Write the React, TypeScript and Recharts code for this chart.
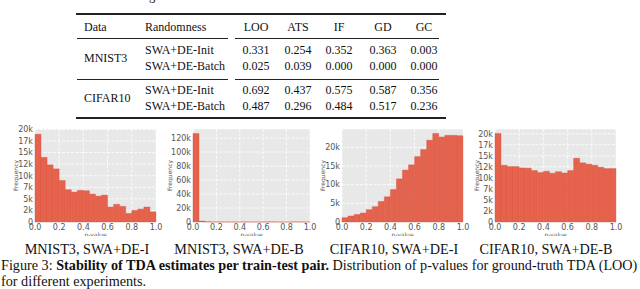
import React from 'react'
import { BarChart, Bar, XAxis, YAxis, CartesianGrid } from 'recharts'

// ── data ──────────────────────────────────────────────────────────────────────

const tableColumns = ['LOO', 'ATS', 'IF', 'GD', 'GC']
const tableDatasets = ['MNIST3', 'CIFAR10']
const tableRandomness = ['SWA+DE-Init', 'SWA+DE-Batch']
const mnistScores = [
  [0.331, 0.254, 0.352, 0.363, 0.003],
  [0.025, 0.039, 0.0, 0.0, 0.0],
]
const cifarScores = [
  [0.692, 0.437, 0.575, 0.587, 0.356],
  [0.487, 0.296, 0.484, 0.517, 0.236],
]

const binCenters = [
  0.025, 0.075, 0.125, 0.175, 0.225, 0.275, 0.325, 0.375, 0.425, 0.475,
  0.525, 0.575, 0.625, 0.675, 0.725, 0.775, 0.825, 0.875, 0.925, 0.975,
]
const mnistInit = [
  18970, 13970, 12350, 11470, 8970, 6985, 6470, 6840, 6760, 6030,
  5590, 5810, 3235, 3820, 3380, 1840, 2500, 2790, 3235, 2200,
]
const mnistBatch = [
  126500, 1300, 350, 150, 80, 60, 50, 40, 120, 60,
  40, 50, 120, 180, 60, 40, 60, 150, 60, 40,
]
const cifarInit = [
  1160, 1600, 2000, 2400, 3300, 4100, 5500, 6750, 8700, 11550,
  13900, 15300, 17500, 19400, 21900, 23700, 22750, 23200, 23200, 23100,
]
const cifarBatch = [
  20070, 12850, 12550, 12550, 12250, 12200, 11650, 11200, 11500, 11050,
  11400, 11100, 11650, 14450, 13400, 13100, 12850, 12400, 12100, 12100,
]

const xTicks = [0, 0.2, 0.4, 0.6, 0.8, 1.0]
const ticksQuarter = [0, 2500, 5000, 7500, 10000, 12500, 15000, 17500, 20000]
const ticks5k = [0, 5000, 10000, 15000, 20000]
const ticks20k = [0, 20000, 40000, 60000, 80000, 100000, 120000]

const subCaptions = ['MNIST3, SWA+DE-I', 'MNIST3, SWA+DE-B', 'CIFAR10, SWA+DE-I', 'CIFAR10, SWA+DE-B']

// ── style ─────────────────────────────────────────────────────────────────────

const SERIF = '"Liberation Serif", "Times New Roman", serif'
const SANS = '"DejaVu Sans", sans-serif'
const BAR = '#E5624D'
const PANEL = '#E8E8E8'
const TICK = '#555555'

const toRows = (values: number[]) => binCenters.map((x, i) => ({ x, v: values[i] }))

const kFormat = (v: number) => (v === 0 ? '0' : `${Math.floor(v / 1000)}k`)

// ── histogram ─────────────────────────────────────────────────────────────────

interface HistProps {
  values: number[]
  left: number
  width: number
  axisWidth: number
  marginRight: number
  yMax: number
  yTicks: number[]
  freqX: number
}

function Hist({ values, left, width, axisWidth, marginRight, yMax, yTicks, freqX }: HistProps) {
  return (
    <div style={{ position: 'absolute', left, top: 125 }}>
      <BarChart
        width={width}
        height={111}
        data={toRows(values)}
        margin={{ top: 4, right: marginRight, bottom: 0, left: 0 }}
        barCategoryGap={0}
        barGap={0}
      >
        <CartesianGrid fill={PANEL} fillOpacity={1} stroke="#ffffff" strokeDasharray="3 1.5" strokeWidth={0.8} />
        <XAxis
          type="number"
          dataKey="x"
          domain={[0, 1]}
          ticks={xTicks}
          interval={0}
          tickFormatter={(v: number) => v.toFixed(1)}
          tick={{ fontSize: 8, fill: TICK, fontFamily: SANS }}
          tickLine={false}
          axisLine={false}
          tickSize={0}
          tickMargin={2}
          height={14}
          label={{
            content: ({ viewBox }: any) => (
              <text
                x={viewBox.x + viewBox.width / 2}
                y={viewBox.y + 14.5}
                textAnchor="middle"
                fontSize={6}
                fill={TICK}
                fontFamily={SANS}
              >
                p-value
              </text>
            ),
          }}
        />
        <YAxis
          type="number"
          domain={[0, yMax]}
          ticks={yTicks}
          interval={0}
          tickFormatter={kFormat}
          tick={{ fontSize: 8, fill: TICK, fontFamily: SANS }}
          tickLine={false}
          axisLine={false}
          tickSize={0}
          tickMargin={2}
          width={axisWidth}
          label={{
            content: ({ viewBox }: any) => {
              const cy = viewBox.y + viewBox.height / 2
              return (
                <text
                  x={freqX}
                  y={cy}
                  transform={`rotate(-90, ${freqX}, ${cy})`}
                  textAnchor="middle"
                  dominantBaseline="middle"
                  fontSize={6}
                  fill={TICK}
                  fontFamily={SANS}
                >
                  Frequency
                </text>
              )
            },
          }}
        />
        <Bar dataKey="v" fill={BAR} stroke="#D4533F" strokeWidth={0.4} isAnimationActive={false} />
      </BarChart>
    </div>
  )
}

// ── table ─────────────────────────────────────────────────────────────────────

const colCenters = [256, 298, 339, 383, 424]
const rowCenters = [50, 66, 90, 106]

function Cell({ x, y, text, center }: { x: number; y: number; text: string; center?: boolean }) {
  return (
    <div
      style={{
        position: 'absolute',
        left: x,
        top: y,
        transform: center ? 'translate(-50%, -50%)' : 'translate(0, -50%)',
        fontFamily: SERIF,
        fontSize: 12,
        lineHeight: '14px',
        whiteSpace: 'nowrap',
        color: '#111',
      }}
    >
      {text}
    </div>
  )
}

function Rule({ x1, x2, y, w }: { x1: number; x2: number; y: number; w: number }) {
  return (
    <div
      style={{ position: 'absolute', left: x1, top: y - w / 2, width: x2 - x1, height: w, background: '#222' }}
    />
  )
}

function Table() {
  const scoreRows = [...mnistScores, ...cifarScores]
  return (
    <>
      <Rule x1={76} x2={446} y={14} w={1.5} />
      <Cell x={84} y={27} text="Data" />
      <Cell x={145} y={27} text="Randomness" />
      {tableColumns.map((c, i) => (
        <Cell key={c} x={colCenters[i]} y={27} text={c} center />
      ))}
      <Rule x1={77} x2={228} y={38} w={0.8} />
      <Rule x1={235} x2={439} y={38} w={0.8} />
      <Cell x={84} y={58} text={tableDatasets[0]} />
      <Cell x={84} y={98} text={tableDatasets[1]} />
      {scoreRows.map((row, r) => (
        <React.Fragment key={r}>
          <Cell x={145} y={rowCenters[r]} text={tableRandomness[r % 2]} />
          {row.map((v, i) => (
            <Cell key={i} x={colCenters[i]} y={rowCenters[r]} text={v.toFixed(3)} center />
          ))}
        </React.Fragment>
      ))}
      <Rule x1={77} x2={228} y={79} w={0.8} />
      <Rule x1={235} x2={439} y={79} w={0.8} />
      <Rule x1={76} x2={446} y={118} w={1.5} />
    </>
  )
}

// ── page ──────────────────────────────────────────────────────────────────────

const captionCenters = [87, 239, 394, 546]

export default function App() {
  const textStyle: React.CSSProperties = {
    position: 'absolute',
    fontFamily: SERIF,
    fontSize: 14.2,
    lineHeight: '16px',
    whiteSpace: 'nowrap',
    color: '#111',
  }
  return (
    <div
      style={{
        position: 'absolute',
        left: 0,
        top: 0,
        width: 640,
        height: 289,
        overflow: 'hidden',
        background: '#fff',
      }}
    >
      <div style={{ ...textStyle, left: 1, top: -11, fontSize: 12.5, lineHeight: '14px' }}>
        We use the CNN model throughout.
      </div>
      <Table />
      <Hist values={mnistInit} left={0} width={165} axisWidth={35} marginRight={9} yMax={20100} yTicks={ticksQuarter} freqX={16} />
      <Hist values={mnistBatch} left={160} width={160} axisWidth={33} marginRight={10} yMax={133000} yTicks={ticks20k} freqX={10} />
      <Hist values={cifarInit} left={318} width={152} axisWidth={24} marginRight={7} yMax={24900} yTicks={ticks5k} freqX={5} />
      <Hist values={cifarBatch} left={470} width={160} axisWidth={25} marginRight={14} yMax={21070} yTicks={ticksQuarter} freqX={7} />
      {subCaptions.map((c, i) => (
        <div key={c} style={{ ...textStyle, left: captionCenters[i], top: 249, transform: 'translate(-50%, -50%)' }}>
          {c}
        </div>
      ))}
      <div style={{ ...textStyle, left: 1, top: 257 }}>
        Figure 3: <b>Stability of TDA estimates per train-test pair.</b> Distribution of p-values for ground-truth TDA (LOO)
      </div>
      <div style={{ ...textStyle, left: 1, top: 273 }}>for different experiments.</div>
    </div>
  )
}
